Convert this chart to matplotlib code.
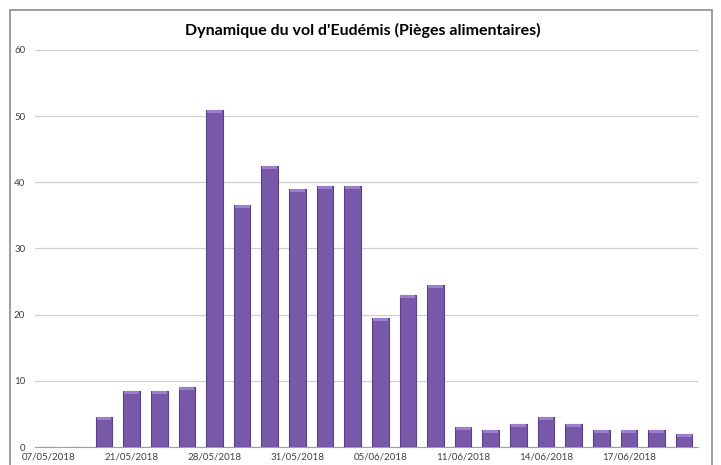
import matplotlib
matplotlib.use("Agg")
import matplotlib.pyplot as plt
from matplotlib.patches import Rectangle

# catch dates (category axis, one label every 3)
dates = ['07/05/2018', '14/05/2018', '17/05/2018', '21/05/2018', '23/05/2018', '25/05/2018',
         '28/05/2018', '29/05/2018', '30/05/2018', '31/05/2018', '01/06/2018', '04/06/2018',
         '05/06/2018', '06/06/2018', '08/06/2018', '11/06/2018', '12/06/2018', '13/06/2018',
         '14/06/2018', '15/06/2018', '16/06/2018', '17/06/2018', '18/06/2018', '19/06/2018']
captures = [0, 0, 4.5, 8.5, 8.5, 9, 51, 36.5, 42.5, 39, 39.5, 39.5,
            19.5, 23, 24.5, 3, 2.5, 3.5, 4.5, 3.5, 2.5, 2.5, 2.5, 2]
yticks = [0, 10, 20, 30, 40, 50, 60]

plt.rcParams['font.family'] = ['Lato', 'DejaVu Sans']

fig = plt.figure(figsize=(7.21, 4.65), dpi=100)
fig.patches.append(Rectangle((10 / 721, -0.05), 702 / 721, 1 - 10 / 465 + 0.05,
                             transform=fig.transFigure, fill=False,
                             edgecolor='#8c8c8c', lw=1.2))
ax = fig.add_axes([0.0485, 0.0387, 0.9195, 0.8538])

x = list(range(len(dates)))
width = 0.6
ax.bar(x, captures, width=width, color='#7858a8', edgecolor='#5a4282', lw=0.8, zorder=3)
# bevel: lighter band at top of each bar
cap = 0.45
ax.bar(x, [cap if v > 0 else 0 for v in captures],
       bottom=[v - cap for v in captures], width=width * 0.9,
       color='#9c7fcf', lw=0, zorder=4)

ax.set_xlim(-0.5, len(dates) - 0.5)
ax.set_ylim(0, 60)
ax.set_yticks(yticks)
ax.set_yticklabels([str(t) for t in yticks], fontsize=7, color='#404040')
ax.set_xticks(x[::3])
ax.set_xticklabels(dates[::3], fontsize=7, color='#404040')
ax.tick_params(length=0, pad=4)
ax.tick_params(axis='y', pad=7)
ax.grid(axis='y', color='#d0d0d0', lw=0.9, zorder=0)
for s in ['top', 'right', 'left']:
    ax.spines[s].set_visible(False)
ax.spines['bottom'].set_color('#a0a0a0')

fig.text(0.503, 0.935, "Dynamique du vol d'Eudémis (Pièges alimentaires)",
         ha='center', va='center', fontsize=11.5, fontweight='bold')

fig.savefig('out.png', dpi=100)
